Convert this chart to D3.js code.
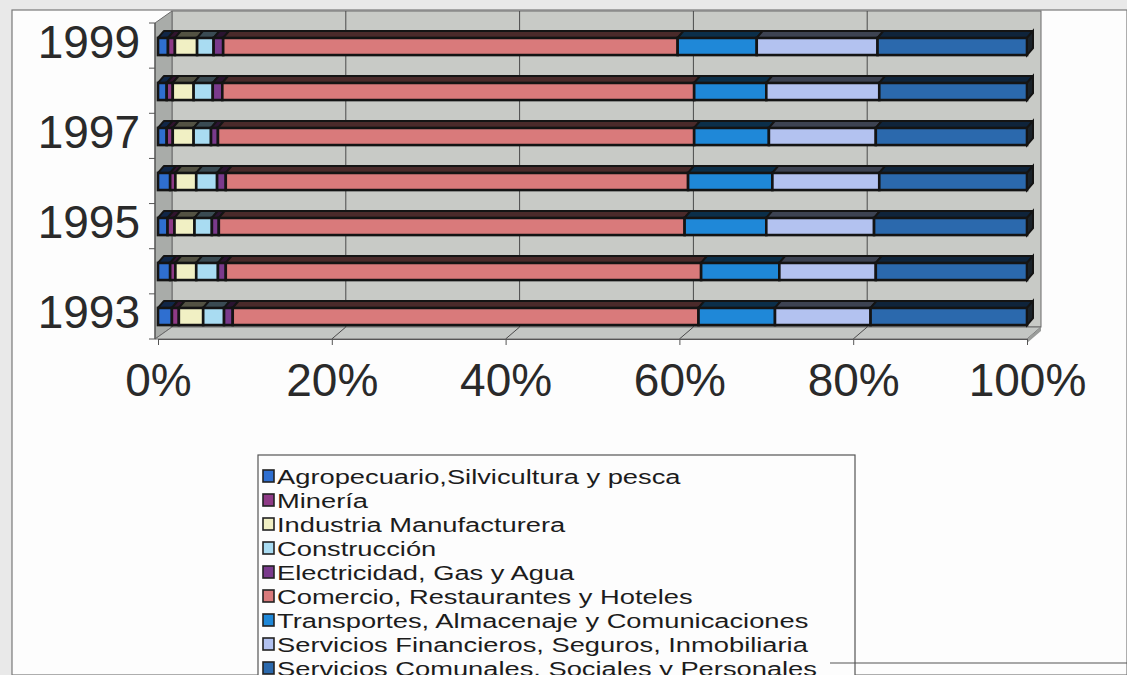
<!DOCTYPE html>
<html><head><meta charset="utf-8">
<script src="https://cdn.jsdelivr.net/npm/d3@7"></script>
<style>
html,body{margin:0;padding:0;background:#e9e9e9;}
svg{display:block;font-family:"Liberation Sans",Arial,sans-serif;}
</style></head>
<body>
<svg id="chart" width="1127" height="675"></svg>
<script>
// ---- data (percent of total) ----
const years = ["1993","1994","1995","1996","1997","1998","1999"];
const yearLabels = ["1993","1995","1997","1999"];
const sectorNames = [
  "Agropecuario,Silvicultura y pesca",
  "Minería",
  "Industria Manufacturera",
  "Construcción",
  "Electricidad, Gas y Agua",
  "Comercio, Restaurantes y Hoteles",
  "Transportes, Almacenaje y Comunicaciones",
  "Servicios Financieros, Seguros, Inmobiliaria",
  "Servicios Comunales, Sociales y Personales"
];
const sectorColors = ["#2f6fd0","#8e3a86","#f1f0c4","#a9dcf2","#7a3a8c","#d97a7b","#1f88d8","#b3c2f0","#2b69ad"];
const agropecuario  = [1.6, 1.4, 1.1, 1.4, 1.0, 1.0, 1.15];
const mineria       = [0.8, 0.6, 0.8, 0.6, 0.7, 0.7, 0.8];
const industria     = [2.8, 2.4, 2.3, 2.4, 2.4, 2.4, 2.55];
const construccion  = [2.4, 2.5, 2.0, 2.4, 2.0, 2.2, 1.9];
const electricidad  = [1.0, 0.9, 0.8, 1.0, 0.8, 1.1, 1.1];
const comercio      = [53.6, 54.7, 53.6, 53.2, 54.8, 54.3, 52.3];
const transportes   = [8.8, 9.0, 9.4, 9.7, 8.6, 8.3, 9.1];
const financieros   = [11.0, 11.1, 12.4, 12.3, 12.3, 13.0, 13.9];
const comunales     = [18.0, 17.4, 17.6, 17.0, 17.4, 17.0, 17.2];
const xTicks = [0, 20, 40, 60, 80, 100];

const seriesValues = [agropecuario, mineria, industria, construccion, electricidad,
                      comercio, transportes, financieros, comunales];

// ---- build table ----
const keys = sectorNames;
const table = years.map((y, i) => {
  const row = {year: y};
  keys.forEach((k, j) => row[k] = seriesValues[j][i]);
  return row;
});
const stacked = d3.stack().keys(keys).offset(d3.stackOffsetExpand)(table);

const svg = d3.select("#chart");
const W = 1127, H = 675;

// page / frame
svg.append("rect").attr("x", 12).attr("y", 10).attr("width", W - 12).attr("height", H - 10)
  .attr("fill", "#fdfdfd").attr("stroke", "#7a7a7a").attr("stroke-width", 1.2);

const x = d3.scaleLinear().domain([0, 1]).range([158, 1027]);
const y = d3.scaleBand().domain(years.slice().reverse()).range([24, 339])
  .paddingInner(0.62).paddingOuter(0.31);
const color = d3.scaleOrdinal().domain(keys).range(sectorColors);

const wdx = 14, wdy = -12;   // wall depth offset
const bdx = 6,  bdy = -7;    // bar depth offset
const yTop = 23, yBot = 339;

const pts = a => a.map(p => p.join(",")).join(" ");

// back wall
svg.append("rect").attr("x", x(0) + wdx).attr("y", yTop + wdy)
  .attr("width", x(1) - x(0)).attr("height", yBot - yTop)
  .attr("fill", "#c8cac6").attr("stroke", "#6a6a6a").attr("stroke-width", 1);
// left wall
svg.append("polygon").attr("points", pts([[x(0) - 3, yTop], [x(0) + wdx, yTop + wdy], [x(0) + wdx, yBot + wdy], [x(0) - 3, yBot]]))
  .attr("fill", "#a9aca9").attr("stroke", "#6a6a6a").attr("stroke-width", 1);
// floor
svg.append("polygon").attr("points", pts([[x(0) - 3, yBot], [x(0) + wdx, yBot + wdy], [x(1) + wdx, yBot + wdy], [x(1), yBot]]))
  .attr("fill", "#c3c6c3").attr("stroke", "#6a6a6a").attr("stroke-width", 1);
svg.append("polygon").attr("points", pts([[x(1), yBot], [x(1) + wdx, yBot + wdy], [x(1) + wdx, yBot + wdy + 4], [x(1), yBot + 4]]))
  .attr("fill", "#9a9c9a");

// gridlines (back wall + floor)
const grid = svg.append("g");
xTicks.filter(t => t > 0 && t < 100).forEach(t => {
  const gx = x(t / 100);
  grid.append("line").attr("x1", gx + wdx).attr("x2", gx + wdx)
    .attr("y1", yTop + wdy).attr("y2", yBot + wdy).attr("stroke", "#4a4a4a").attr("stroke-width", 1);
  grid.append("line").attr("x1", gx).attr("x2", gx + wdx)
    .attr("y1", yBot).attr("y2", yBot + wdy).attr("stroke", "#4a4a4a").attr("stroke-width", 1);
});

// bars (3D)
const bars = svg.append("g");
years.slice().reverse().forEach(yr => {
  const i = years.indexOf(yr);
  const y0 = y(yr), h = y.bandwidth();
  const g = bars.append("g");
  stacked.forEach(s => {
    const d = s[i];
    const x0 = x(d[0]), x1 = x(d[1]);
    const c = color(s.key);
    g.append("polygon")
      .attr("points", pts([[x0, y0], [x0 + bdx, y0 + bdy], [x1 + bdx, y0 + bdy], [x1, y0]]))
      .attr("fill", d3.color(c).darker(3)).attr("stroke", "#141414").attr("stroke-width", 2)
      .attr("stroke-linejoin", "round");
    g.append("rect").attr("x", x0).attr("y", y0).attr("width", Math.max(0, x1 - x0)).attr("height", h)
      .attr("fill", c).attr("stroke", "#141414").attr("stroke-width", 2.6);
  });
  const last = stacked[stacked.length - 1][i];
  const xe = x(last[1]);
  g.append("polygon")
    .attr("points", pts([[xe, y0], [xe + bdx, y0 + bdy], [xe + bdx, y0 + h + bdy], [xe, y0 + h]]))
    .attr("fill", "#1a2229").attr("stroke", "#141414").attr("stroke-width", 2);
});

// y axis line + ticks
const yAxisG = svg.append("g");
yAxisG.append("line").attr("x1", x(0) - 3).attr("x2", x(0) - 3).attr("y1", yTop).attr("y2", yBot)
  .attr("stroke", "#555").attr("stroke-width", 1.2);
d3.range(years.length + 1).forEach(k => {
  const ty = yTop + k * (yBot - yTop) / years.length;
  yAxisG.append("line").attr("x1", x(0) - 9).attr("x2", x(0) - 3).attr("y1", ty).attr("y2", ty)
    .attr("stroke", "#555").attr("stroke-width", 1);
});
yAxisG.selectAll("text.yl").data(yearLabels).join("text")
  .attr("x", 140).attr("y", d => y(d) + y.bandwidth() / 2 + 11)
  .attr("text-anchor", "end").attr("font-size", 46).attr("fill", "#2a2a2a").text(d => d);

// x axis
const xAxis = d3.axisBottom(x).tickValues(xTicks.map(t => t / 100)).tickFormat(d => Math.round(d * 100) + "%")
  .tickSize(6).tickPadding(18);
const xg = svg.append("g").attr("transform", `translate(0,${yBot})`).call(xAxis);
xg.select(".domain").attr("stroke", "#555");
xg.selectAll(".tick line").attr("stroke", "#555");
xg.selectAll(".tick text").attr("font-size", 46).attr("fill", "#2a2a2a")
  .attr("font-family", "'Liberation Sans',Arial,sans-serif").attr("dy", "0.71em");

// legend
const lg = svg.append("g");
lg.append("rect").attr("x", 258).attr("y", 455).attr("width", 597).attr("height", 240)
  .attr("fill", "#fdfdfd").attr("stroke", "#555").attr("stroke-width", 1.2);
const ly = d3.scalePoint().domain(keys).range([476, 668]);
keys.forEach(k => {
  lg.append("rect").attr("x", 263).attr("y", ly(k) - 6).attr("width", 11).attr("height", 12)
    .attr("fill", color(k)).attr("stroke", "#222").attr("stroke-width", 1.6);
  lg.append("text").attr("transform", `translate(277,${ly(k) + 7.5}) scale(1.3,1)`)
    .attr("font-size", 21).attr("fill", "#1c1c1c").text(k);
});
svg.append("line").attr("x1", 830).attr("x2", W).attr("y1", 663).attr("y2", 663)
  .attr("stroke", "#555").attr("stroke-width", 1.2);
</script>
</body></html>
